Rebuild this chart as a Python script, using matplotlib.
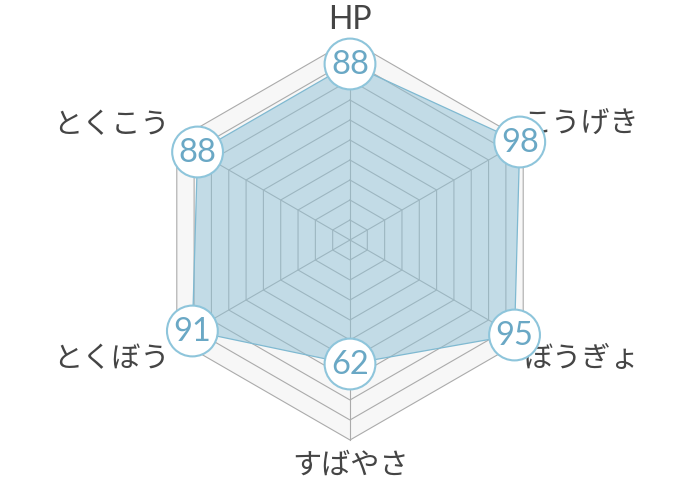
import numpy as np
import matplotlib.pyplot as plt
from matplotlib.patches import Circle, Polygon

plt.rcParams['font.family'] = ['Lato', 'Noto Sans CJK JP', 'DejaVu Sans']

labels = ["HP", "こうげき", "ぼうぎょ", "すばやさ", "とくぼう", "とくこう"]
values = [88, 98, 95, 62, 91, 88]
max_value = 100
ring_step = 10

n = len(labels)
theta = np.deg2rad(90 - 360 / n * np.arange(n))  # clockwise from top


def to_xy(r, th):
    return np.asarray(r) * np.cos(th), np.asarray(r) * np.sin(th)


fig = plt.figure(figsize=(7, 4.8), dpi=100)
ax = fig.add_axes([0, 0, 1, 1])
ax.set_xlim(-175, 175)
ax.set_ylim(-120, 120)
ax.set_aspect("equal")
ax.axis("off")

# background of the web
ox, oy = to_xy(max_value, theta)
ax.add_patch(Polygon(np.column_stack([ox, oy]), closed=True,
                     fc="#f7f7f7", ec="none", zorder=0))

# rings and spokes
for r in range(ring_step, max_value + 1, ring_step):
    x, y = to_xy(r, theta)
    ax.plot(np.append(x, x[0]), np.append(y, y[0]), color="#ababab",
            lw=0.8, zorder=1)
for th in theta:
    x, y = to_xy([0, max_value], th)
    ax.plot(x, y, color="#ababab", lw=0.8, zorder=1)

# data polygon
vx, vy = to_xy(values, theta)
ax.add_patch(Polygon(np.column_stack([vx, vy]), closed=True,
                     fc="#8fc1d6", alpha=0.5, ec="none", zorder=2))
ax.add_patch(Polygon(np.column_stack([vx, vy]), closed=True,
                     fc="none", ec="#7fb9d1", lw=0.9, zorder=3))

# value bubbles
for x, y, v in zip(vx, vy, values):
    ax.add_patch(Circle((x, y), 12.7, fc="white", ec="#8ec5db", lw=1.5,
                        zorder=4))
    ax.text(x, y - 0.3, str(v), ha="center", va="center", fontsize=23.5,
            color="#6aa8c5", zorder=5)

# axis labels
for lab, th in zip(labels, theta):
    c, s = np.cos(th), np.sin(th)
    if abs(c) < 0.01:
        x = 0
        y = 110 if s > 0 else -113
        ha = "center"
    else:
        x = (100 if c > 0 else 104) * c
        y = 100 * s + (7.5 if s > 0 else -9.5)
        ha = "left" if c > 0 else "right"
    size = 23 if lab.isascii() else 21
    ax.text(x, y, lab, ha=ha, va="center", fontsize=size, color="#454545")

fig.savefig("out.png", dpi=100)
